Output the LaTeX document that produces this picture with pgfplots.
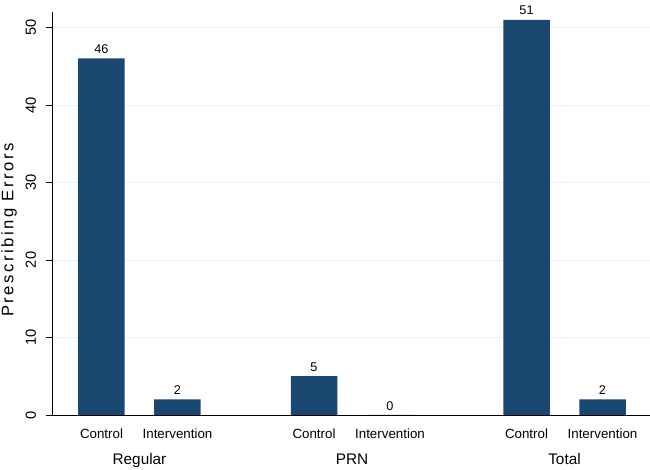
\documentclass[border=0pt]{standalone}
\usepackage{pgfplots}
\pgfplotsset{compat=1.18}
\usepackage{fontspec}
\setmainfont{Liberation Sans}
\definecolor{barcol}{RGB}{26,71,111}
\definecolor{gridcol}{RGB}{234,240,243}
\begin{document}
\begin{tikzpicture}
\begin{axis}[
  scale only axis, width=448.5pt, height=302.25pt,
  xmin=52, xmax=650, ymin=0, ymax=52,
  axis x line*=bottom, axis y line*=left,
  axis line style={-, black, line width=0.6pt},
  ytick={0,10,20,30,40,50},
  ymajorgrids, grid style={gridcol, line width=0.7pt},
  tick align=outside, major tick length=4.5pt,
  ytick style={black, line width=0.6pt},
  /pgf/number format/assume math mode=true,
  yticklabel style={rotate=90, anchor=south, yshift=4pt, font=\fontsize{11}{12}\selectfont},
  xtick={101.5,177.5,314,390,526.5,602.5},
  xticklabels={Control,Intervention,Control,Intervention,Control,Intervention},
  xtick style={draw=none},
  xticklabel style={font=\fontsize{10}{12}\selectfont, yshift=-2pt},
  extra x ticks={139.5,352,564.5},
  extra x tick labels={Regular,PRN,Total},
  extra x tick style={major tick length=0pt, tick style={draw=none},
    xticklabel style={yshift=-23.5pt, font=\fontsize{11.5}{13}\selectfont}},
  ylabel={Prescribing Errors},
  ylabel style={at={(axis description cs:-0.0719,0.459)}, anchor=center,
    font=\fontsize{12.5}{14}\selectfont\addfontfeature{LetterSpace=15}},
]
\addplot[ybar, bar width=46.5, fill=barcol, draw=none,
  nodes near coords,
  every node near coord/.append style={font=\fontsize{9.5}{11}\selectfont, black}]
  coordinates {(101.5,46) (177.5,2) (314,5) (390,0) (526.5,51) (602.5,2)};
\end{axis}
\pgfresetboundingbox
\path[use as bounding box] (-39pt,-41.25pt) rectangle (448.5pt,311.25pt);
\end{tikzpicture}
\end{document}
